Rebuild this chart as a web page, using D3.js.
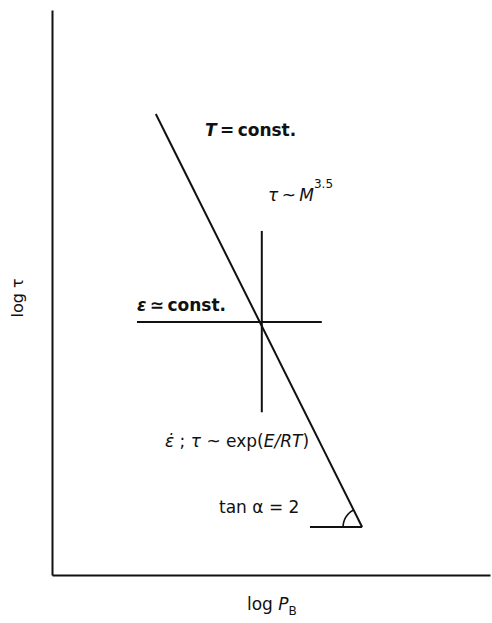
<!DOCTYPE html>
<html>
<head>
<meta charset="utf-8">
<script src="https://cdn.jsdelivr.net/npm/d3@7"></script>
<style>
  html, body { margin: 0; padding: 0; background: #fff; }
  svg { display: block; }
  text { font-family: "DejaVu Sans", "Liberation Sans", sans-serif; fill: #111; }
</style>
</head>
<body>
<script>
// ---- data (arbitrary log units, axes are unlabelled) ----
const xDomain = [0, 100];
const yDomain = [0, 100];
// main line: log tau vs log P_B, slope 2 in drawing
const mainLine = [[23.7, 81.6], [70.8, 8.5]];
// epsilon = const. horizontal
const epsLine = [[19.4, 44.8], [61.6, 44.8]];
// tau ~ M^3.5 vertical
const mLine = [[47.9, 60.9], [47.9, 28.8]];
// base of angle
const baseLine = [[58.9, 8.5], [70.8, 8.5]];
const angleVertex = [70.8, 8.5];
const angleDeg = [180, 116.6];
const yLabel = "log τ";

const W = 492, H = 623;
const x = d3.scaleLinear().domain(xDomain).range([52, 490]);
const y = d3.scaleLinear().domain(yDomain).range([575, 10]);

const svg = d3.select("body").append("svg").attr("width", W).attr("height", H);

// axes (plain lines, no ticks)
svg.append("g").attr("transform", `translate(0,${y(0)})`)
  .call(d3.axisBottom(x).ticks(0).tickSize(0).tickSizeOuter(0))
  .call(g => g.select(".domain").attr("stroke", "#111").attr("stroke-width", 2));
svg.append("g").attr("transform", `translate(${x(0)},0)`)
  .call(d3.axisLeft(y).ticks(0).tickSize(0).tickSizeOuter(0))
  .call(g => g.select(".domain").attr("stroke", "#111").attr("stroke-width", 2));

const line = d3.line().x(d => x(d[0])).y(d => y(d[1]));
[mainLine, epsLine, mLine, baseLine].forEach(pts => {
  svg.append("path").attr("d", line(pts)).attr("fill", "none")
    .attr("stroke", "#111").attr("stroke-width", 2);
});

// angle arc
const r = 19;
const arcPts = d3.range(angleDeg[1], angleDeg[0] + 0.1, 2).map(a => {
  const t = a * Math.PI / 180;
  return [x(angleVertex[0]) + r * Math.cos(t), y(angleVertex[1]) - r * Math.sin(t)];
});
svg.append("path").attr("d", d3.line()(arcPts)).attr("fill", "none")
  .attr("stroke", "#111").attr("stroke-width", 1.6);

// labels
const TS = "\u2009";
function label(px, py, parts, size, weight) {
  const t = svg.append("text").attr("x", px).attr("y", py)
    .attr("font-size", size).attr("font-weight", weight || "bold");
  parts.forEach(p => {
    const s = t.append("tspan").text(p.t);
    if (p.i) s.attr("font-style", "italic");
    if (p.dy) s.attr("dy", p.dy);
    if (p.fs) s.attr("font-size", p.fs);
    if (p.dx) s.attr("dx", p.dx);
  });
  return t;
}

label(205, 136, [{t: "T", i: 1}, {t: TS + "=" + TS + "const."}], 17);
label(268, 201, [{t: "τ", i: 1}, {t: TS + "~" + TS}, {t: "M", i: 1}, {t: "3.5", dy: -13, fs: 12}], 17, "normal");
label(137, 311, [{t: "ε", i: 1}, {t: TS + "≃" + TS + "const."}], 17);
label(165, 447, [{t: "ε̇", i: 1}, {t: " ; "}, {t: "τ", i: 1}, {t: " ~ exp("}, {t: "E/RT", i: 1}, {t: ")"}], 17, "normal");
label(219, 513, [{t: "tan "}, {t: "α"}, {t: " = 2"}], 17, "normal");

// axis titles
label(247, 610, [{t: "log "}, {t: "P", i: 1}, {t: "B", dy: 5, fs: 12}], 17, "normal");
svg.append("text").attr("transform", "translate(23,298) rotate(-90)")
  .attr("text-anchor", "middle").attr("font-size", 16).text(yLabel);
</script>
</body>
</html>
